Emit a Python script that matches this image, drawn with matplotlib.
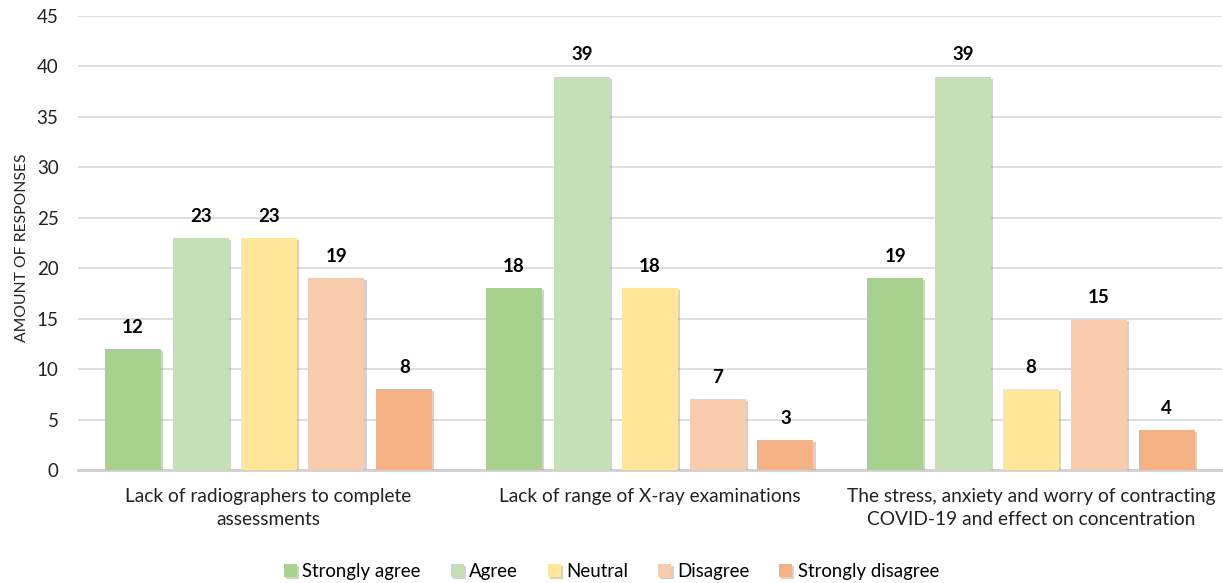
import matplotlib.pyplot as plt
import matplotlib.patheffects as pe
import numpy as np

plt.rcParams["font.family"] = ["Lato", "DejaVu Sans"]

categories = [
    "Lack of radiographers to complete\nassessments",
    "Lack of range of X-ray examinations",
    "The stress, anxiety and worry of contracting\nCOVID-19 and effect on concentration",
]
series_names = ["Strongly agree", "Agree", "Neutral", "Disagree", "Strongly disagree"]
strongly_agree = [12, 18, 19]
agree = [23, 39, 39]
neutral = [23, 18, 8]
disagree = [19, 7, 15]
strongly_disagree = [8, 3, 4]
colors = ["#a9d18e", "#c5e0b4", "#ffe699", "#f8cbad", "#f4b183"]

values = [strongly_agree, agree, neutral, disagree, strongly_disagree]

fig = plt.figure(figsize=(12.23, 5.83), dpi=100)
ax = fig.add_axes([0.0638, 0.1938, 0.935, 0.7788])

x = np.arange(len(categories))
step = 0.178
width = 0.147
shadow = [pe.SimplePatchShadow(offset=(1.5, -1.5), shadow_rgbFace="#7f7f7f", alpha=0.35), pe.Normal()]

for i, (name, vals, col) in enumerate(zip(series_names, values, colors)):
    pos = x + (i - 2) * step
    bars = ax.bar(pos, vals, width, color=col, label=name, zorder=3)
    for b in bars:
        b.set_path_effects(shadow)
    for p, v in zip(pos, vals):
        ax.text(p, v + 1.3, str(v), ha="center", va="bottom", fontsize=13.5,
                fontweight="bold", color="black", zorder=4)

ax.set_xlim(-0.5, 2.5)
ax.set_ylim(0, 45)
ax.set_yticks(np.arange(0, 46, 5))
ax.yaxis.grid(True, color="#d9d9d9", linewidth=1.2, zorder=0)
ax.set_axisbelow(True)
for s in ["top", "right", "left"]:
    ax.spines[s].set_visible(False)
ax.spines["bottom"].set_color("#d0d0d0")
ax.spines["bottom"].set_linewidth(2)
ax.tick_params(axis="y", length=0, labelsize=13.5, pad=14, colors="#222222")
ax.tick_params(axis="x", length=0, labelsize=13.8, pad=13, colors="#222222")
ax.set_xticks(x)
ax.set_xticklabels(categories, linespacing=1.45)
ax.set_ylabel("AMOUNT OF RESPONSES", fontsize=11.3, color="#222222")
ax.yaxis.set_label_coords(-0.043, 0.49)

fig.legend(loc="lower center", bbox_to_anchor=(0.5, -0.024), ncol=5, frameon=False,
           fontsize=13.4, handlelength=0.7, handleheight=0.7, handletextpad=0.3,
           columnspacing=1.6)

fig.savefig("out.png", dpi=100)
